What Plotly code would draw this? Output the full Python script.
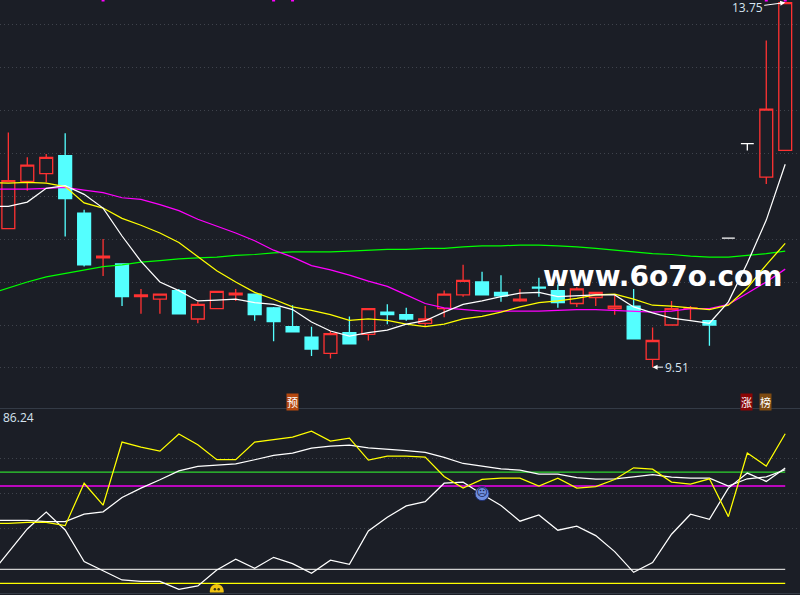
import plotly.graph_objects as go

# up candles (red, hollow)
up_x = [0, 1, 2, 5, 7, 8, 10, 11, 12, 17, 19, 22, 23, 24, 27, 30, 31, 32, 34, 35, 36, 40, 41]
up_open = [11.12, 11.67, 11.76, 10.78, 10.33, 10.30, 10.07, 10.19, 10.35, 9.67, 9.89, 10.02, 10.19, 10.35, 10.28, 10.25, 10.32, 10.19, 9.60, 10.00, 10.19, 11.72, 12.03]
up_close = [11.68, 11.86, 11.95, 10.80, 10.35, 10.36, 10.24, 10.39, 10.37, 9.90, 10.19, 10.07, 10.36, 10.52, 10.30, 10.42, 10.38, 10.22, 9.82, 10.19, 10.20, 12.51, 13.75]
up_high = [12.24, 11.95, 11.99, 11.00, 10.42, 10.36, 10.27, 10.39, 10.42, 9.93, 10.19, 10.22, 10.40, 10.70, 10.42, 10.44, 10.38, 10.36, 9.97, 10.28, 10.22, 13.31, 13.75]
up_low = [11.12, 11.56, 11.66, 10.57, 10.13, 10.13, 10.02, 10.19, 10.28, 9.61, 9.82, 9.98, 10.09, 10.33, 10.27, 10.21, 10.22, 10.12, 9.51, 10.00, 10.06, 11.64, 12.03]

# down candles (cyan, filled)
down_x = [3, 4, 6, 9, 13, 14, 15, 16, 18, 20, 21, 25, 26, 28, 29, 33, 37]
down_open = [11.97, 11.30, 10.71, 10.40, 10.36, 10.20, 9.98, 9.86, 9.91, 10.15, 10.12, 10.50, 10.38, 10.44, 10.40, 10.22, 10.05]
down_close = [11.47, 10.70, 10.33, 10.13, 10.12, 10.04, 9.92, 9.72, 9.78, 10.12, 10.07, 10.35, 10.34, 10.43, 10.26, 9.84, 10.00]
down_high = [12.23, 11.34, 10.71, 10.42, 10.36, 10.21, 10.23, 9.98, 10.10, 10.24, 10.20, 10.62, 10.58, 10.55, 10.47, 10.42, 10.05]
down_low = [11.03, 10.68, 10.22, 10.13, 10.05, 9.81, 9.92, 9.64, 9.78, 10.01, 10.05, 10.35, 10.27, 10.33, 10.20, 9.83, 9.76]

# limit-up days (white)
flat_x = [38, 39]
flat_open = [11.01, 12.11]
flat_close = [11.01, 12.11]
flat_high = [11.01, 12.11]
flat_low = [11.01, 12.03]

# moving averages, first value is the day before the window
ma_x = list(range(-1, 42))
ma5 = [11.38, 11.38, 11.43, 11.59, 11.62, 11.52, 11.36, 11.035, 10.74, 10.50, 10.40, 10.28, 10.29, 10.30, 10.26, 10.24, 10.18, 10.035, 9.93, 9.87, 9.91, 9.94, 10.01, 10.05, 10.15, 10.24, 10.28, 10.33, 10.37, 10.38, 10.33, 10.34, 10.35, 10.35, 10.21, 10.14, 10.08, 10.05, 10.02, 10.27, 10.72, 11.22, 11.87]
ma10 = [11.66, 11.65, 11.66, 11.65, 11.61, 11.42, 11.36, 11.24, 11.16, 11.07, 10.96, 10.79, 10.63, 10.50, 10.38, 10.30, 10.21, 10.17, 10.12, 10.055, 10.07, 10.055, 10.01, 9.98, 10.01, 10.07, 10.10, 10.15, 10.21, 10.26, 10.28, 10.31, 10.35, 10.36, 10.30, 10.23, 10.22, 10.20, 10.18, 10.23, 10.43, 10.70, 10.95]
ma20 = [11.58, 11.58, 11.58, 11.59, 11.60, 11.57, 11.54, 11.48, 11.46, 11.40, 11.33, 11.23, 11.15, 11.07, 10.98, 10.87, 10.79, 10.69, 10.64, 10.58, 10.51, 10.45, 10.35, 10.25, 10.20, 10.18, 10.16, 10.16, 10.16, 10.16, 10.17, 10.18, 10.18, 10.17, 10.16, 10.15, 10.16, 10.19, 10.19, 10.24, 10.37, 10.50, 10.65]
ma60 = [10.36, 10.43, 10.50, 10.56, 10.60, 10.64, 10.68, 10.70, 10.73, 10.75, 10.77, 10.78, 10.79, 10.81, 10.82, 10.84, 10.85, 10.85, 10.85, 10.86, 10.87, 10.88, 10.88, 10.89, 10.89, 10.91, 10.92, 10.92, 10.93, 10.93, 10.92, 10.91, 10.89, 10.87, 10.85, 10.83, 10.82, 10.80, 10.79, 10.79, 10.81, 10.83, 10.86]

# lower indicator
ind_fast = [43.2, 43.2, 43.9, 43.9, 41.5, 72.0, 56.2, 101.6, 98.0, 95.1, 107.4, 99.7, 88.9, 88.9, 101.6, 103.3, 105.2, 109.5, 102.3, 104.5, 88.6, 91.5, 91.5, 90.8, 76.9, 68.5, 74.7, 75.7, 75.7, 69.9, 75.7, 68.5, 69.6, 74.7, 83.1, 82.1, 72.8, 71.3, 75.2, 48.0, 93.7, 84.3, 107.6]
ind_smooth = [45.2, 45.2, 45.2, 44.4, 44.4, 49.7, 51.4, 61.7, 68.5, 74.5, 80.9, 84.1, 85.0, 86.0, 88.9, 92.0, 93.7, 97.3, 98.7, 99.4, 97.5, 96.6, 95.4, 94.2, 90.6, 86.2, 84.3, 82.4, 81.4, 78.5, 78.5, 76.1, 74.9, 75.2, 76.6, 78.1, 76.4, 75.7, 75.7, 69.9, 75.2, 76.6, 81.7]
ind_slow = [5.3, 22.6, 39.1, 51.2, 38.4, 15.6, 9.1, 2.4, 1.4, 1.4, -4.3, -1.9, 9.6, 17.3, 10.8, 18.7, 14.2, 7.2, 16.6, 13.7, 37.7, 47.5, 55.7, 58.8, 72.0, 72.8, 64.1, 56.0, 44.7, 49.2, 38.2, 41.1, 34.3, 22.8, 7.9, 14.9, 35.3, 49.7, 46.1, 68.5, 79.3, 73.3, 82.9]
levels = [80, 70, 10, 0]
level_colors = ["#2fd62f", "#f000f0", "#d0d0d0", "#ffff00"]

price_grid = [9.5, 10, 10.5, 11, 11.5, 12, 12.5, 13, 13.5]
ind_grid = [39.6, 64.9, 90.1]
top_x = [5, 14, 15, 40, 41]
top_y = [13.78, 13.78, 13.78, 13.78, 13.78]

BG = "#1b1e26"
RED = "#ff3232"
CYAN = "#54ffff"
GRID = "#3f434c"

fig = go.Figure()

def candles(x, o, h, l, c, color, fill):
    fig.add_trace(go.Candlestick(
        x=x, open=o, high=h, low=l, close=c,
        increasing=dict(line=dict(color=color, width=1.3), fillcolor=fill),
        decreasing=dict(line=dict(color=color, width=1.3), fillcolor=fill),
        whiskerwidth=0, xaxis="x", yaxis="y"))

candles(up_x, up_open, up_high, up_low, up_close, RED, "rgba(0,0,0,0)")
candles(down_x, down_open, down_high, down_low, down_close, CYAN, CYAN)
candles(flat_x, flat_open, flat_high, flat_low, flat_close, "#ffffff", "#ffffff")

for vals, col in [(ma60, "#00ff00"), (ma20, "#ff00ff"), (ma10, "#ffff00"), (ma5, "#ffffff")]:
    fig.add_trace(go.Scatter(x=ma_x, y=vals, mode="lines", line=dict(color=col, width=1.25), xaxis="x", yaxis="y"))

fig.add_trace(go.Scatter(x=top_x, y=top_y, mode="markers", marker=dict(symbol="square", color="#ff00ff", size=3), xaxis="x", yaxis="y"))

for lvl, col in zip(levels, level_colors):
    fig.add_trace(go.Scatter(x=[-1, 41], y=[lvl, lvl], mode="lines", line=dict(color=col, width=1.3), xaxis="x2", yaxis="y2"))
for vals, col in [(ind_smooth, "#ffffff"), (ind_slow, "#ffffff"), (ind_fast, "#ffff00")]:
    fig.add_trace(go.Scatter(x=ma_x, y=vals, mode="lines", line=dict(color=col, width=1.25), xaxis="x2", yaxis="y2"))

# signal faces
fig.add_trace(go.Scatter(x=[25], y=[64.5], mode="markers+text", text=["☹"], textposition="middle center",
                         textfont=dict(size=11, color="#16204a", family="DejaVu Sans"),
                         marker=dict(color="#6f8fe0", size=14, line=dict(color="#1f2f70", width=1)),
                         xaxis="x2", yaxis="y2"))
fig.add_trace(go.Scatter(x=[11], y=[-5.5], mode="markers", marker=dict(color="#f2c40f", size=14), xaxis="x2", yaxis="y2"))
fig.add_trace(go.Scatter(x=[10.9, 11.1], y=[-4.2, -4.2], mode="markers", marker=dict(color="#3a3410", size=2.5), xaxis="x2", yaxis="y2"))

fig.update_layout(
    width=800, height=595, margin=dict(l=0, r=0, t=0, b=0),
    paper_bgcolor=BG, plot_bgcolor=BG, showlegend=False, hovermode=False, boxgap=0.32, boxgroupgap=0,
    xaxis=dict(domain=[0, 1], range=[-0.44, 41.78], visible=False, rangeslider=dict(visible=False), anchor="y"),
    yaxis=dict(domain=[0.3126, 1], range=[9.023, 13.78], tickvals=price_grid, showticklabels=False, ticks="",
               showgrid=True, gridcolor=GRID, griddash="1px 3px", gridwidth=1, zeroline=False, anchor="x"),
    xaxis2=dict(domain=[0, 1], range=[-0.44, 41.78], showticklabels=False, ticks="", showgrid=False, zeroline=False,
                showline=True, mirror=True, linecolor="#343b46", linewidth=1, anchor="y2"),
    yaxis2=dict(domain=[0.0042, 0.3126], range=[-6.6, 125.4], tickvals=ind_grid, showticklabels=False, ticks="",
                showgrid=True, gridcolor=GRID, griddash="1px 3px", gridwidth=1, zeroline=False, anchor="x2"),
)

label_font = dict(family="Open Sans", size=12, color="#d6e4f0")
fig.add_annotation(x=41, y=13.75, xref="x", yref="y", text="13.75", font=label_font, showarrow=True,
                   ax=-38, ay=5, arrowcolor="#ffffff", arrowhead=2, arrowsize=1, arrowwidth=1)
fig.add_annotation(x=34, y=9.51, xref="x", yref="y", text="9.51", font=label_font, showarrow=True,
                   ax=24, ay=0, arrowcolor="#ffffff", arrowhead=2, arrowsize=1, arrowwidth=1)
fig.add_annotation(x=0.001, y=1 - 417 / 595, xref="paper", yref="paper", text="86.24", font=label_font,
                   showarrow=False, xanchor="left", yanchor="middle")

for txt, px, col in [("预", 292.5, "#b5480f"), ("涨", 746.5, "#8a0505"), ("榜", 765.5, "#7d4a12")]:
    fig.add_annotation(x=px / 800, y=1 - 402 / 595, xref="paper", yref="paper", text=txt, showarrow=False,
                       xanchor="center", yanchor="middle",
                       font=dict(family="Noto Sans CJK SC", size=11, color="#ffffff"), bgcolor=col, borderpad=0)

fig.add_annotation(x=662.5 / 800, y=1 - 276 / 595, xref="paper", yref="paper", text="www.6o7o.com", showarrow=False,
                   xanchor="center", yanchor="middle",
                   font=dict(family="DejaVu Sans", size=28, color="#ffffff", weight="bold"))

# page default margin would push the chart 8px in
fig.write_html("out.html", config=dict(displayModeBar=False),
               post_script="document.body.style.margin='0';document.body.style.background='#1b1e26';")
